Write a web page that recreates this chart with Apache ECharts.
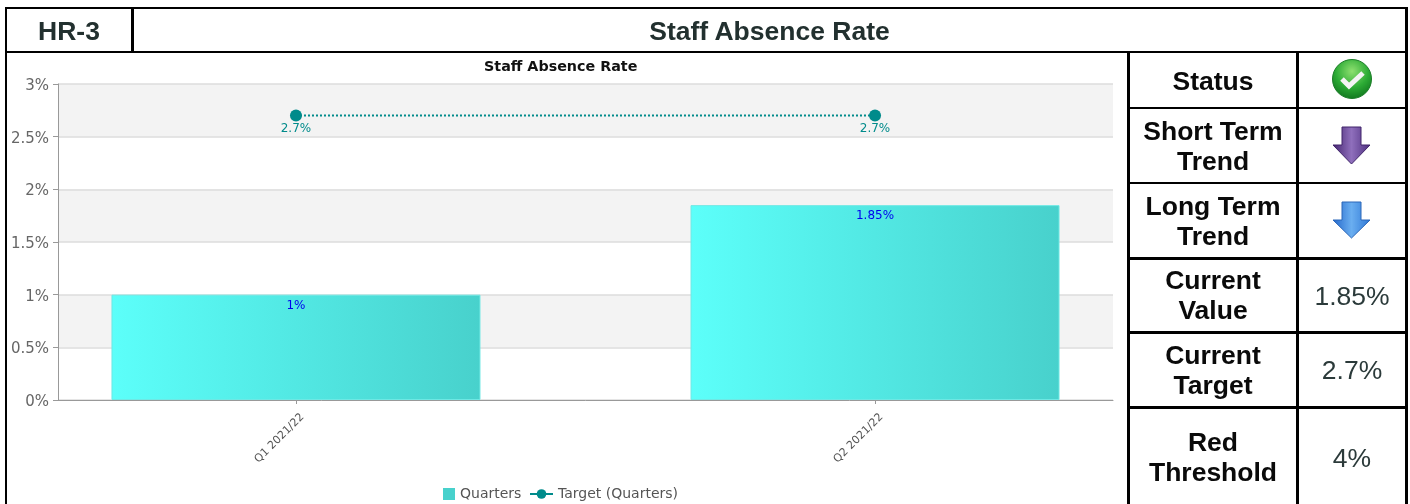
<!DOCTYPE html>
<html><head><meta charset="utf-8">
<style>
html,body{margin:0;padding:0;background:#fff;width:1410px;height:504px;overflow:hidden;font-family:"Liberation Sans",Arial,sans-serif}
#chart{position:absolute;left:0;top:0;width:1410px;height:504px}
.l{position:absolute;background:#000}
.t{position:absolute;text-align:center;font-weight:bold;color:#0a0a0a;font-size:26.5px;line-height:30px;white-space:nowrap}
.v{font-weight:normal;color:#2b3a3a;font-size:26.5px}
svg{position:absolute}
</style></head><body>
<div id="chart"></div>
<div class="l" style="left:5px;top:7px;width:1403px;height:2px"></div>
<div class="l" style="left:5px;top:51px;width:1403px;height:2px"></div>
<div class="l" style="left:5px;top:7px;width:2px;height:497px"></div>
<div class="l" style="left:131px;top:7px;width:3px;height:46px"></div>
<div class="l" style="left:1127px;top:51px;width:3px;height:453px"></div>
<div class="l" style="left:1296px;top:51px;width:3px;height:453px"></div>
<div class="l" style="left:1405px;top:7px;width:3px;height:497px"></div>
<div class="l" style="left:1127px;top:107px;width:281px;height:2px"></div>
<div class="l" style="left:1127px;top:182px;width:281px;height:2px"></div>
<div class="l" style="left:1127px;top:257px;width:281px;height:3px"></div>
<div class="l" style="left:1127px;top:331px;width:281px;height:3px"></div>
<div class="l" style="left:1127px;top:406px;width:281px;height:3px"></div>

<div class="t" style="left:7px;width:124px;top:16px;color:#22302f">HR-3</div>
<div class="t" style="left:134px;width:1271px;top:16px;color:#22302f">Staff Absence Rate</div>
<div class="t" style="left:1130px;width:166px;top:66px">Status</div>
<div class="t" style="left:1130px;width:166px;top:116px">Short Term<br>Trend</div>
<div class="t" style="left:1130px;width:166px;top:191px">Long Term<br>Trend</div>
<div class="t" style="left:1130px;width:166px;top:265px">Current<br>Value</div>
<div class="t" style="left:1130px;width:166px;top:340px">Current<br>Target</div>
<div class="t" style="left:1130px;width:166px;top:427px">Red<br>Threshold</div>
<div class="t v" style="left:1299px;width:106px;top:281px">1.85%</div>
<div class="t v" style="left:1299px;width:106px;top:355px">2.7%</div>
<div class="t v" style="left:1299px;width:106px;top:443px">4%</div>

<svg style="left:1331px;top:58px" width="42" height="44" viewBox="0 0 42 44">
<defs><radialGradient id="g" cx="50%" cy="30%" r="70%"><stop offset="0" stop-color="#8ee070"/><stop offset=".6" stop-color="#2cab35"/><stop offset="1" stop-color="#137a20"/></radialGradient></defs>
<circle cx="21" cy="21" r="19.5" fill="url(#g)" stroke="#1b7d28"/>
<path d="M11 21 L18 28 L32 15" fill="none" stroke="#f4f4f4" stroke-width="5"/>
</svg>
<svg style="left:1331px;top:125px" width="42" height="42" viewBox="0 0 42 42">
<defs><linearGradient id="p" x1="0" x2="1" y1="0" y2="0"><stop offset="0" stop-color="#452670"/><stop offset=".5" stop-color="#8f6fbc"/><stop offset="1" stop-color="#4f3080"/></linearGradient></defs>
<path d="M11 2 H30 V20 H39 L20.5 39 L2 20 H11 Z" fill="url(#p)" stroke="#40256a"/>
</svg>
<svg style="left:1331px;top:200px" width="42" height="42" viewBox="0 0 42 42">
<defs><linearGradient id="b" x1="0" x2="1" y1="0" y2="0"><stop offset="0" stop-color="#2468cc"/><stop offset=".5" stop-color="#6aaef0"/><stop offset="1" stop-color="#2f78d6"/></linearGradient></defs>
<path d="M11 2 H30 V20 H39 L20.5 38 L2 20 H11 Z" fill="url(#b)" stroke="#2a66b8"/>
</svg>

<script src="https://cdn.jsdelivr.net/npm/echarts@6/dist/echarts.min.js"></script>
<script>
const chartTitle = 'Staff Absence Rate';
const categories = ['Q1 2021/22', 'Q2 2021/22'];
const quarters = [1, 1.85];
const target = [2.7, 2.7];
const seriesNames = ['Quarters', 'Target (Quarters)'];
const positions = categories.map((c, i) => i);
const pct = v => v + '%';
const labelFont = 'Tahoma, "DejaVu Sans", sans-serif';
const legendText = { fontFamily: labelFont, fontSize: 14, color: '#555' };

const chart = echarts.init(document.getElementById('chart'));
chart.setOption({
  animation: false,
  backgroundColor: 'transparent',
  title: { text: chartTitle, left: 479, top: 55,
    textStyle: { fontFamily: labelFont, fontSize: 14.3, fontWeight: 'bold', color: '#111' } },
  legend: [
    { left: 443, top: 487, padding: 0, itemWidth: 12, itemHeight: 12, textStyle: legendText,
      data: [{ name: seriesNames[0], icon: 'rect', itemStyle: { color: '#48d1cc', borderWidth: 0 } }] },
    { left: 529, top: 487, padding: 0, itemWidth: 23, itemHeight: 12, textStyle: legendText,
      lineStyle: { type: 'solid', width: 2 },
      data: [{ name: seriesNames[1] }] }
  ],
  grid: { left: 58, right: 297, top: 84, bottom: 104 },
  xAxis: {
    type: 'value', min: -0.411, max: 1.411, splitLine: { show: false },
    axisLine: { onZero: false, lineStyle: { color: '#999', width: 1 } },
    axisTick: { show: true, customValues: positions, length: 4, lineStyle: { color: '#999' } },
    axisLabel: { customValues: positions, rotate: 45, margin: 9, lineHeight: 18, verticalAlign: 'top',
      fontFamily: labelFont, fontSize: 11, color: '#555',
      formatter: v => categories[Math.round(v)] }
  },
  yAxis: {
    type: 'value', min: 0, max: 3, interval: 0.5,
    axisLine: { show: true, onZero: false, lineStyle: { color: '#999' } },
    axisTick: { show: true, length: 5, lineStyle: { color: '#999' } },
    axisLabel: { formatter: pct, margin: 9, verticalAlign: 'top', lineHeight: 4, fontFamily: labelFont, fontSize: 15, color: '#666' },
    splitLine: { lineStyle: { color: '#dcdcdc', width: 1.5 } },
    splitArea: { show: true, areaStyle: { color: ['#ffffff', '#f3f3f3'] } }
  },
  series: [
    { name: seriesNames[0], type: 'bar', barWidth: 369,
      data: quarters.map((v, i) => [positions[i], v]),
      itemStyle: { borderColor: '#6ee8e4', borderWidth: 1,
        color: new echarts.graphic.LinearGradient(0, 0, 1, 0, [
          { offset: 0, color: '#5cfffa' }, { offset: 1, color: '#48d1cc' } ]) },
      label: { show: true, position: 'insideTop', distance: 5, formatter: p => pct(p.value[1]),
        fontFamily: labelFont, fontSize: 12, color: '#0000ee' } },
    { name: seriesNames[1], type: 'line', symbol: 'circle', symbolSize: 12,
      data: target.map((v, i) => [positions[i], v]),
      lineStyle: { color: '#008b8b', width: 2, type: [2, 2] },
      itemStyle: { color: '#008b8b' },
      label: { show: true, position: 'bottom', distance: 1, formatter: p => pct(p.value[1]),
        fontFamily: labelFont, fontSize: 12, color: '#008b8b' } }
  ]
});
</script>
</body></html>
